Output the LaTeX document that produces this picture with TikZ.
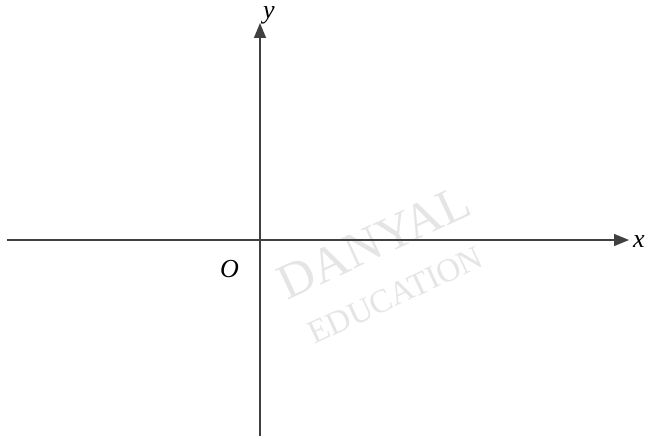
\documentclass[tikz,border=0pt]{standalone}
\usepackage{fontspec}
\setmainfont{Liberation Serif}
\usetikzlibrary{arrows.meta}

\begin{document}
\begin{tikzpicture}[x=1pt, y=-1pt,
    axis/.style = {draw=black!75, line width=1.3pt, -{Triangle[length=15pt, width=12pt]}},
    lbl/.style = {font=\fontsize{26}{26}\selectfont\itshape, inner sep=0pt},
    wmark/.style = {text=black!10, inner sep=0pt, anchor=base, rotate=25}]
    \useasboundingbox (0,0) rectangle (647,436);

    \coordinate (xl) at (7,240);
    \coordinate (xr) at (629,240);
    \coordinate (yb) at (260,436);
    \coordinate (yt) at (260,23);

    % watermark
    \node[wmark, font=\fontsize{50}{50}\selectfont] (danyal) at (381,257) {DANYAL};
    \node[wmark, font=\fontsize{33}{33}\selectfont] (edu) at (400,305) {EDUCATION};

    \path[axis] (xl) -- (xr);
    \path[axis] (yb) -- (yt);

    \node[lbl, anchor=base west] (X) at (633,247) {x};
    \node[lbl, anchor=base west] (Y) at (263,19) {y};
    \node[lbl, anchor=base east] (O) at (239,277) {O};
\end{tikzpicture}
\end{document}
